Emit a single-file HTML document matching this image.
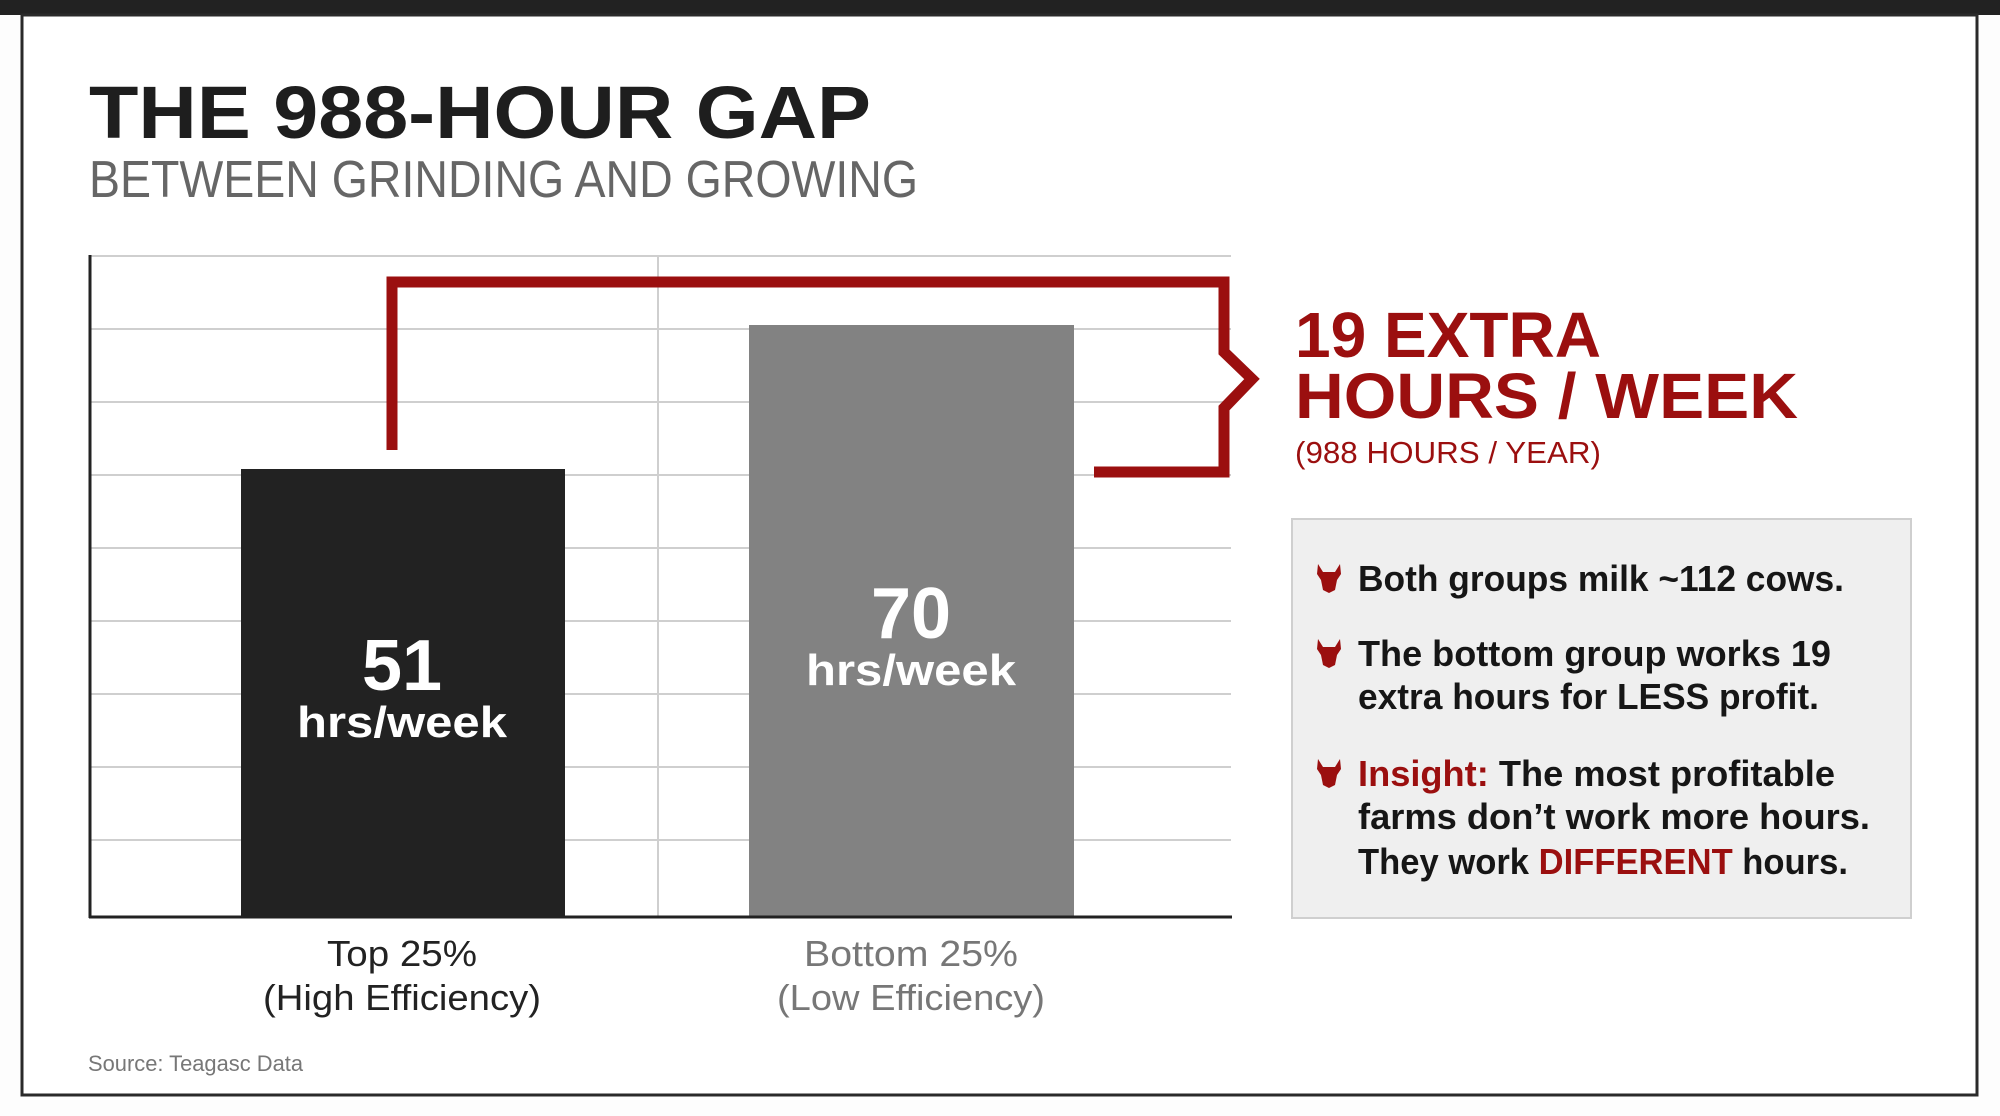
<!DOCTYPE html>
<html><head><meta charset="utf-8"><style>
html,body{margin:0;padding:0;background:#fff;}
svg{display:block;}
text{font-family:"Liberation Sans",sans-serif;}
</style></head><body>
<svg width="2000" height="1116" viewBox="0 0 2000 1116" xmlns="http://www.w3.org/2000/svg">
<rect width="2000" height="1116" fill="#fdfdfd"/>
<rect x="0" y="0" width="2000" height="15" fill="#222"/>
<!-- frame -->
<rect x="22" y="15" width="1955" height="1080" fill="#fff" stroke="#2a2a2a" stroke-width="3"/>
<!-- title -->
<text x="89" y="138" font-size="74" font-weight="bold" fill="#1e1e1e" textLength="782" lengthAdjust="spacingAndGlyphs">THE 988-HOUR GAP</text>
<text x="89" y="197" font-size="52" fill="#666" textLength="829" lengthAdjust="spacingAndGlyphs">BETWEEN GRINDING AND GROWING</text>
<!-- gridlines -->
<g stroke="#cfcfcf" stroke-width="2">
<line x1="89" y1="256" x2="1231" y2="256"/>
<line x1="89" y1="329" x2="1231" y2="329"/>
<line x1="89" y1="402" x2="1231" y2="402"/>
<line x1="89" y1="475" x2="1231" y2="475"/>
<line x1="89" y1="548" x2="1231" y2="548"/>
<line x1="89" y1="621" x2="1231" y2="621"/>
<line x1="89" y1="694" x2="1231" y2="694"/>
<line x1="89" y1="767" x2="1231" y2="767"/>
<line x1="89" y1="840" x2="1231" y2="840"/>
<line x1="658" y1="256" x2="658" y2="917"/>
</g>
<!-- bars -->
<rect x="241" y="469" width="324" height="448" fill="#222"/>
<rect x="749" y="325" width="325" height="592" fill="#828282"/>
<!-- axes -->
<line x1="90" y1="255" x2="90" y2="918" stroke="#222" stroke-width="3"/>
<line x1="89" y1="917" x2="1232" y2="917" stroke="#222" stroke-width="3"/>
<!-- bar labels -->
<text x="402" y="690" font-size="72" font-weight="bold" fill="#fff" text-anchor="middle">51</text>
<text x="402" y="737" font-size="44" font-weight="bold" fill="#fff" text-anchor="middle" textLength="210" lengthAdjust="spacingAndGlyphs">hrs/week</text>
<text x="911" y="638" font-size="72" font-weight="bold" fill="#fff" text-anchor="middle">70</text>
<text x="911" y="685" font-size="44" font-weight="bold" fill="#fff" text-anchor="middle" textLength="210" lengthAdjust="spacingAndGlyphs">hrs/week</text>
<!-- category -->
<text x="402" y="966" font-size="36" fill="#222" text-anchor="middle" textLength="150" lengthAdjust="spacingAndGlyphs">Top 25%</text>
<text x="402" y="1010" font-size="36" fill="#222" text-anchor="middle" textLength="278" lengthAdjust="spacingAndGlyphs">(High Efficiency)</text>
<text x="911" y="966" font-size="36" fill="#777" text-anchor="middle" textLength="214" lengthAdjust="spacingAndGlyphs">Bottom 25%</text>
<text x="911" y="1010" font-size="36" fill="#777" text-anchor="middle" textLength="268" lengthAdjust="spacingAndGlyphs">(Low Efficiency)</text>
<text x="88" y="1071" font-size="22" fill="#777" textLength="215" lengthAdjust="spacingAndGlyphs">Source: Teagasc Data</text>
<!-- bracket -->
<path d="M392 450 L392 282 L1224 282 L1224 352 L1252 379 L1224 408 L1224 472 L1094 472" fill="none" stroke="#9b0f0f" stroke-width="11" stroke-linejoin="miter"/>
<!-- callout -->
<text x="1295" y="357" font-size="64" font-weight="bold" fill="#9b0f0f" textLength="306" lengthAdjust="spacingAndGlyphs">19 EXTRA</text>
<text x="1295" y="418" font-size="64" font-weight="bold" fill="#9b0f0f" textLength="503" lengthAdjust="spacingAndGlyphs">HOURS / WEEK</text>
<text x="1295" y="463" font-size="31" fill="#9b0f0f" textLength="306" lengthAdjust="spacingAndGlyphs">(988 HOURS / YEAR)</text>
<!-- box -->
<rect x="1292" y="519" width="619" height="399" fill="#efefef" stroke="#cfcfcf" stroke-width="2"/>
<g fill="#9b0f0f">
<g transform="translate(1329,578)"><path d="M-11 -14 L-6 -6 L6 -6 L11 -14 L12 -4 L8 2 L6 12 L0 15 L-6 12 L-8 2 L-12 -4 Z"/></g>
<g transform="translate(1329,653)"><path d="M-11 -14 L-6 -6 L6 -6 L11 -14 L12 -4 L8 2 L6 12 L0 15 L-6 12 L-8 2 L-12 -4 Z"/></g>
<g transform="translate(1329,773)"><path d="M-11 -14 L-6 -6 L6 -6 L11 -14 L12 -4 L8 2 L6 12 L0 15 L-6 12 L-8 2 L-12 -4 Z"/></g>
</g>
<g font-size="36" font-weight="bold" fill="#161616">
<text x="1358" y="591" textLength="486" lengthAdjust="spacingAndGlyphs">Both groups milk ~112 cows.</text>
<text x="1358" y="666" textLength="473" lengthAdjust="spacingAndGlyphs">The bottom group works 19</text>
<text x="1358" y="709" textLength="461" lengthAdjust="spacingAndGlyphs">extra hours for LESS profit.</text>
<text x="1358" y="786" textLength="477" lengthAdjust="spacingAndGlyphs"><tspan fill="#9b0f0f">Insight:</tspan> The most profitable</text>
<text x="1358" y="829" textLength="512" lengthAdjust="spacingAndGlyphs">farms don’t work more hours.</text>
<text x="1358" y="874" textLength="490" lengthAdjust="spacingAndGlyphs">They work <tspan fill="#9b0f0f">DIFFERENT</tspan> hours.</text>
</g>
</svg>
</body></html>
